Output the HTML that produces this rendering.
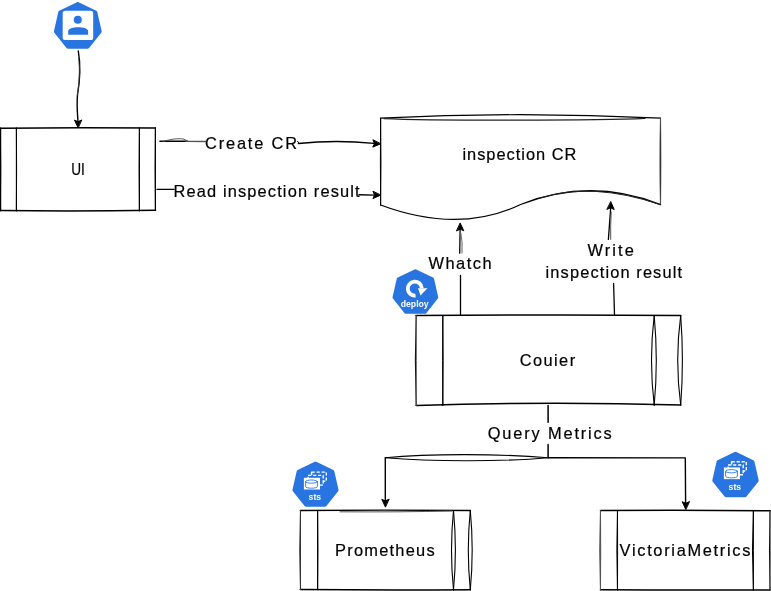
<!DOCTYPE html>
<html><head><meta charset="utf-8"><style>
html,body{margin:0;padding:0;background:#fff;}
svg{display:block;will-change:transform;}
text{font-family:"Liberation Sans",sans-serif;fill:#000;stroke:none;stroke:#000;stroke-width:0.2px;}
</style></head><body>
<svg width="771" height="591" viewBox="0 0 771 591" stroke="#000" stroke-width="1.3" fill="none" stroke-linecap="round" stroke-linejoin="round">
<rect x="0" y="0" width="771" height="591" fill="#fff" stroke="none"/>
<polygon points="77.80,3.95 95.43,12.44 99.78,31.52 87.58,46.82 68.02,46.82 55.82,31.52 60.17,12.44" fill="#2875e2" stroke="#2875e2" stroke-width="3.8"/>
<rect x="62.7" y="10.7" width="30.5" height="29.3" rx="2.6" fill="#fff" stroke="none"/>
<circle cx="77.8" cy="19.7" r="4" fill="#2875e2" stroke="none"/>
<path d="M68.2,34.8 L68.2,31 C68.2,28.6 73,27.2 78.15,27.2 C83.3,27.2 88.1,28.6 88.1,31 L88.1,34.8 Z" fill="#2875e2" stroke="none"/>
<path d="M78.3,51 C81,66 80,80 77.5,95 C76.5,105 77.6,115 78,122" stroke-width="1.4"/>
<path d="M78.6,58 C80,70 79.6,82 77.2,96" stroke-width="0.8" stroke="#444"/>
<path d="M78.00,127.60 L74.50,120.10 L78.00,121.70 L81.50,120.10 Z" fill="#000" stroke="#000" stroke-width="1"/>
<path d="M1,128 L155.5,128 L155.5,210.8 L1,210.8 Z" fill="#fff" stroke="none"/>
<path d="M0.6,128.2 Q78,127.2 155.3,128.1" stroke-width="1.5"/>
<path d="M0.6,210.6 Q78,211.6 155.5,210.3" stroke-width="1.5"/>
<path d="M0.6,128 C0.33,155.60 0.33,183.20 0.6,210.8" stroke-width="1.1"/><path d="M0.6,128 C1.00,155.60 1.00,183.20 0.6,210.8" stroke-width="1.0" stroke="#000"/>
<path d="M16.4,128 C16.40,155.60 16.40,183.20 16.4,210.8" stroke-width="1.1"/><path d="M16.4,128 C16.67,155.60 16.67,183.20 16.4,210.8" stroke-width="1.0" stroke="#000"/>
<path d="M139.4,128 C139.00,155.60 139.00,183.20 139.4,210.8" stroke-width="1.1"/><path d="M139.4,128 C139.53,155.60 139.53,183.20 139.4,210.8" stroke-width="1.0" stroke="#000"/>
<path d="M155.4,127.8 C155.40,155.30 155.40,182.80 155.4,210.3" stroke-width="1.1"/><path d="M155.4,127.8 C155.00,155.30 155.00,182.80 155.4,210.3" stroke-width="1.0" stroke="#000"/>
<text x="71.2" y="174.6" textLength="13.6" lengthAdjust="spacingAndGlyphs" font-size="16.4">UI</text>
<path d="M160,141.2 L187,141.2" stroke-width="1.6"/>
<path d="M186,141.3 L206,141.5" stroke-width="1.3" stroke="#555"/>
<path d="M163,141.5 C170,139.5 178,137.8 184,139.2 L188,141.3" stroke-width="0.9" stroke="#444"/>
<path d="M298.4,143.5 Q336,139.6 374,143.4" stroke-width="1.4"/>
<path d="M297.5,141.3 L299,143.2" stroke-width="1"/>
<path d="M380.40,143.90 L372.77,147.10 L374.50,143.66 L373.05,140.10 Z" fill="#000" stroke="#000" stroke-width="1"/>
<text x="205" y="148.5" textLength="92" lengthAdjust="spacing" font-size="16.4">Create CR</text>
<path d="M157,189.4 L174,189.4" stroke-width="1.3"/>
<path d="M359,194.8 L374,195.1" stroke-width="1.4"/>
<path d="M380.50,195.20 L372.93,198.55 L374.60,195.08 L373.07,191.55 Z" fill="#000" stroke="#000" stroke-width="1"/>
<text x="173.6" y="196.5" textLength="186" lengthAdjust="spacing" font-size="16.4">Read inspection result</text>
<path d="M380.6,118.2 Q520,114 660.7,118.2 L660.7,204.5 Q590.4,177 520.6,204.5 Q458.8,234.1 380.6,204.9 Z" fill="#fff" stroke="none"/>
<path d="M380.5,118.2 Q520,111.2 660.5,118.2" stroke-width="1.2"/>
<path d="M384,118.6 C430,120.8 600,120.6 645,118.4" stroke-width="1.1" stroke="#222"/>
<path d="M380.6,118.2 C381.00,147.13 381.00,176.07 380.6,205" stroke-width="1.1"/><path d="M380.6,118.2 C380.33,147.13 380.33,176.07 380.6,205" stroke-width="1.0" stroke="#000"/>
<path d="M660.5,118.2 C660.77,147.00 660.77,175.80 660.5,204.6" stroke-width="1.1"/><path d="M660.5,118.2 C659.70,147.00 659.70,175.80 660.5,204.6" stroke-width="1.0" stroke="#555"/>
<path d="M660.5,204.6 Q590.4,177 520.6,204.5 Q458.8,234.1 380.6,205" stroke-width="1.3"/>
<path d="M660.5,204.6 Q592,181.5 540,198" stroke-width="1" stroke="#222"/>
<text x="462.4" y="159.9" textLength="114" lengthAdjust="spacing" font-size="16.4">inspection CR</text>
<path d="M460.5,314.6 L460.5,275.4 M459.7,253.2 L460.1,229.5" stroke-width="1.3"/>
<path d="M462,253 Q462.6,242 460.9,233" stroke-width="1.1" stroke="#777"/>
<path d="M460.30,223.30 L463.80,230.80 L460.30,229.20 L456.80,230.80 Z" fill="#000" stroke="#000" stroke-width="1"/>
<text x="428.5" y="269.2" textLength="63" lengthAdjust="spacing" font-size="16.4">Whatch</text>
<path d="M614.5,314.5 L613.6,283.4 M608.4,239.4 L610.7,207.5" stroke-width="1.3"/>
<path d="M610.7,239.4 Q610.4,225 611.2,212" stroke-width="1" stroke="#555"/>
<path d="M610.90,201.90 L614.17,209.50 L610.72,207.80 L607.18,209.29 Z" fill="#000" stroke="#000" stroke-width="1"/>
<text x="587.5" y="256.3" textLength="46.3" lengthAdjust="spacing" font-size="16.4">Write</text>
<text x="545.6" y="277.9" textLength="136.4" lengthAdjust="spacing" font-size="16.4">inspection result</text>
<polygon points="415.40,271.10 432.21,279.19 436.36,297.38 424.73,311.97 406.07,311.97 394.44,297.38 398.59,279.19" fill="#2875e2" stroke="#2875e2" stroke-width="3.8"/>
<path d="M415.53,295.56 A7.0,7.0 0 1 1 421.78,288.11" stroke="#fff" stroke-width="3.8" stroke-linecap="butt"/>
<path d="M418,288.2 L427.4,288.2 L420.5,295.6 Z" fill="#fff" stroke="none"/>
<text x="400.7" y="306.7" textLength="28" lengthAdjust="spacingAndGlyphs" font-size="9.2" font-weight="bold" style="fill:#fff;stroke:none">deploy</text>
<path d="M415.8,315.4 L681,315.4 L681,405.2 L415.8,405.2 Z" fill="#fff" stroke="none"/>
<path d="M416,315.6 Q548,314.6 680.7,315.4" stroke-width="1.5"/>
<path d="M416.2,405.5 Q548,401.4 680.7,405" stroke-width="1.5"/>
<path d="M416.2,315.6 C415.13,345.57 415.13,375.53 416.2,405.5" stroke-width="1.1"/><path d="M416.2,315.6 C416.33,345.57 416.33,375.53 416.2,405.5" stroke-width="1.0" stroke="#555"/>
<path d="M442.8,315.6 C443.20,345.57 443.20,375.53 442.8,405.5" stroke-width="1.1"/><path d="M442.8,315.6 C442.53,345.57 442.53,375.53 442.8,405.5" stroke-width="1.0" stroke="#000"/>
<path d="M654.2,315.6 C650.60,345.47 650.60,375.33 654.2,405.2" stroke-width="1.1"/><path d="M654.2,315.6 C657.00,345.47 657.00,375.33 654.2,405.2" stroke-width="1.1" stroke="#000"/>
<path d="M680.7,315.6 C676.70,345.40 676.70,375.20 680.7,405.0" stroke-width="1.1"/><path d="M680.7,315.6 C682.97,345.40 682.97,375.20 680.7,405.0" stroke-width="1.1" stroke="#000"/>
<text x="519.8" y="366" textLength="55.3" lengthAdjust="spacing" font-size="16.4">Couier</text>
<path d="M548.1,405.6 L548.1,422.3 M548.1,444.5 L548.1,457.6" stroke-width="1.5"/>
<path d="M385.3,457.7 C430,453.5 500,453.8 548.1,457.7" stroke-width="1.1"/><path d="M385.3,457.7 C430,461.5 500,462 548.1,457.7" stroke-width="1.1"/>
<path d="M548.1,457.7 L685.3,457.9 L685.6,503" stroke-width="1.4"/>
<path d="M385.3,457.7 L385.3,501" stroke-width="1.4"/>
<path d="M385.30,506.80 L381.80,499.30 L385.30,500.90 L388.80,499.30 Z" fill="#000" stroke="#000" stroke-width="1"/>
<path d="M685.70,509.20 L682.20,501.70 L685.70,503.30 L689.20,501.70 Z" fill="#000" stroke="#000" stroke-width="1"/>
<text x="487.8" y="439" textLength="124" lengthAdjust="spacing" font-size="16.4">Query Metrics</text>
<polygon points="315.50,463.55 332.47,471.72 336.66,490.08 324.92,504.80 306.08,504.80 294.34,490.08 298.53,471.72" fill="#2875e2" stroke="#2875e2" stroke-width="3.8"/><g transform="translate(0.00,0.00)"><rect x="311.6" y="472.1" width="14.7" height="9.2" fill="none" stroke="#fff" stroke-width="1.4" stroke-dasharray="3.2,1.8" stroke-linecap="butt"/><rect x="308.1" y="475.4" width="15.1" height="9.7" fill="#2875e2" stroke="#fff" stroke-width="1.4" stroke-dasharray="3.2,1.8" stroke-linecap="butt"/><rect x="303.9" y="477.8" width="16.1" height="11.7" fill="#fff" stroke="none"/><path d="M305.6,481.6 L305.6,486.6 A5.9,1.6 0 0 0 317.4,486.6 L317.4,481.6" fill="#fff" stroke="#2875e2" stroke-width="0.9"/><ellipse cx="311.5" cy="481.6" rx="5.9" ry="1.6" fill="#fff" stroke="#2875e2" stroke-width="0.9"/><text x="308.6" y="499.9" textLength="12.5" lengthAdjust="spacingAndGlyphs" font-size="9.6" font-weight="bold" style="fill:#fff;stroke:none">sts</text></g>
<polygon points="735.50,453.75 752.58,461.98 756.80,480.46 744.98,495.29 726.02,495.29 714.20,480.46 718.42,461.98" fill="#2875e2" stroke="#2875e2" stroke-width="3.8"/><g transform="translate(420.00,-10.35)"><rect x="311.6" y="472.1" width="14.7" height="9.2" fill="none" stroke="#fff" stroke-width="1.4" stroke-dasharray="3.2,1.8" stroke-linecap="butt"/><rect x="308.1" y="475.4" width="15.1" height="9.7" fill="#2875e2" stroke="#fff" stroke-width="1.4" stroke-dasharray="3.2,1.8" stroke-linecap="butt"/><rect x="303.9" y="477.8" width="16.1" height="11.7" fill="#fff" stroke="none"/><path d="M305.6,481.6 L305.6,486.6 A5.9,1.6 0 0 0 317.4,486.6 L317.4,481.6" fill="#fff" stroke="#2875e2" stroke-width="0.9"/><ellipse cx="311.5" cy="481.6" rx="5.9" ry="1.6" fill="#fff" stroke="#2875e2" stroke-width="0.9"/><text x="308.6" y="499.9" textLength="12.5" lengthAdjust="spacingAndGlyphs" font-size="9.6" font-weight="bold" style="fill:#fff;stroke:none">sts</text></g>
<path d="M300,510.6 L471,510.6 L471,590.2 L300,590.2 Z" fill="#fff" stroke="none"/>
<path d="M300.3,510.5 Q385,509.8 470.3,510.5" stroke-width="1.3"/>
<path d="M340,511.8 Q400,512.2 452,511" stroke-width="1" stroke="#555"/>
<path d="M300.3,589.6 Q385,590.4 470.3,589.8" stroke-width="1.5"/>
<path d="M300.5,510.5 C299.70,536.87 299.70,563.23 300.5,589.6" stroke-width="1.1"/><path d="M300.5,510.5 C300.50,536.87 300.50,563.23 300.5,589.6" stroke-width="1.0" stroke="#333"/>
<path d="M317.6,510.5 C317.60,536.87 317.60,563.23 317.6,589.6" stroke-width="1.1"/><path d="M317.6,510.5 C318.00,536.87 318.00,563.23 317.6,589.6" stroke-width="1.0" stroke="#000"/>
<path d="M453.5,510.5 C450.83,536.93 450.83,563.37 453.5,589.8" stroke-width="1.1"/><path d="M453.5,510.5 C456.03,536.93 456.03,563.37 453.5,589.8" stroke-width="1.1" stroke="#000"/>
<path d="M470.3,510.5 C467.63,536.93 467.63,563.37 470.3,589.8" stroke-width="1.1"/><path d="M470.3,510.5 C472.83,536.93 472.83,563.37 470.3,589.8" stroke-width="1.1" stroke="#000"/>
<text x="335" y="555.7" textLength="99.6" lengthAdjust="spacing" font-size="16.4">Prometheus</text>
<path d="M600.2,510.8 L770.2,510.8 L770.2,590.2 L600.2,590.2 Z" fill="#fff" stroke="none"/>
<path d="M600.5,510.6 Q685,510 770.1,510.8" stroke-width="1.5"/>
<path d="M600.5,589.8 Q685,590.3 770.1,590" stroke-width="1.5"/>
<path d="M600.5,510.6 C599.83,537.00 599.83,563.40 600.5,589.8" stroke-width="1.1"/><path d="M600.5,510.6 C600.77,537.00 600.77,563.40 600.5,589.8" stroke-width="1.0" stroke="#555"/>
<path d="M617.5,510.6 C616.70,537.00 616.70,563.40 617.5,589.8" stroke-width="1.1"/><path d="M617.5,510.6 C617.63,537.00 617.63,563.40 617.5,589.8" stroke-width="1.0" stroke="#000"/>
<path d="M753.4,510.8 C752.20,537.20 752.20,563.60 753.4,590" stroke-width="1.1"/><path d="M753.4,510.8 C753.40,537.20 753.40,563.60 753.4,590" stroke-width="1.0" stroke="#000"/>
<path d="M770.0,510.8 C769.33,537.20 769.33,563.60 770.0,590" stroke-width="1.1"/><path d="M770.0,510.8 C770.40,537.20 770.40,563.60 770.0,590" stroke-width="1.0" stroke="#555"/>
<text x="619.6" y="555.5" textLength="130.8" lengthAdjust="spacing" font-size="16.4">VictoriaMetrics</text>
</svg>
</body></html>
